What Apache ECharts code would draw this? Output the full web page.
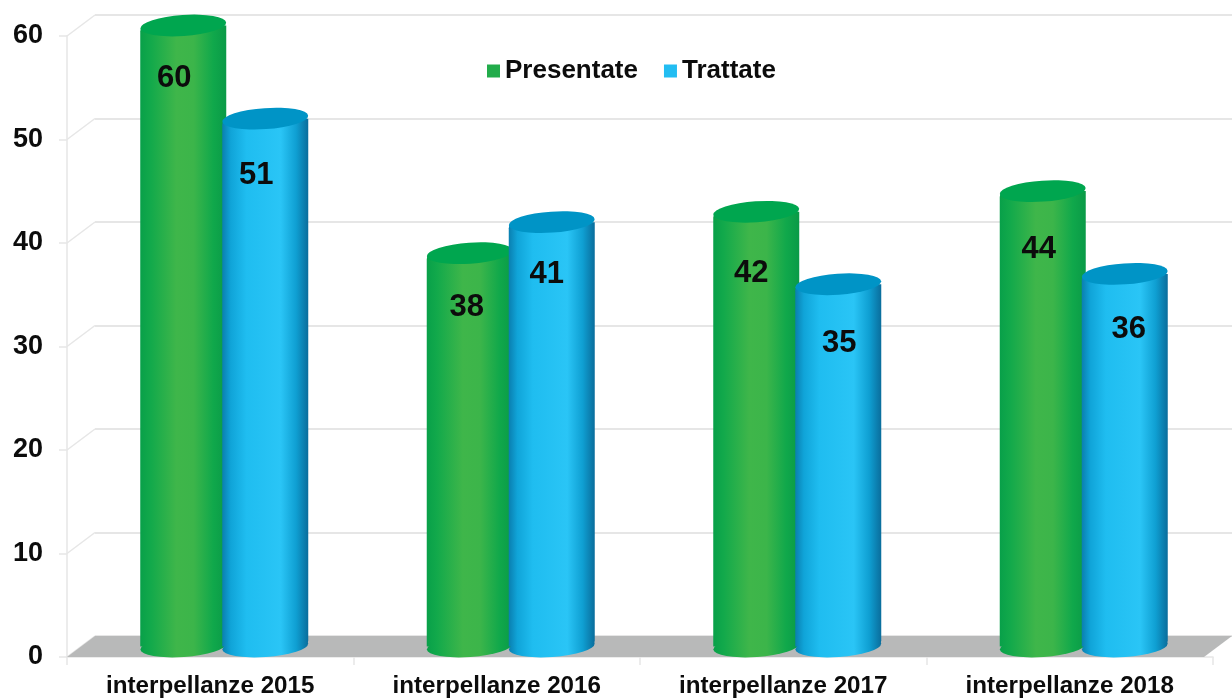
<!DOCTYPE html>
<html><head><meta charset="utf-8">
<style>html,body{margin:0;padding:0;background:#fff}#c{width:1232px;height:699px}</style>
<script src="https://cdn.jsdelivr.net/npm/echarts@6/dist/echarts.min.js"></script>
</head><body><div id="c"></div>
<script>
const categories = ['interpellanze 2015','interpellanze 2016','interpellanze 2017','interpellanze 2018'];
const presentate = [60,38,42,44];
const trattate = [51,41,35,36];
const yTicks = [0,10,20,30,40,50,60];
const seriesNames = ['Presentate','Trattate'];

// layout and styling
const FONT = '"Liberation Sans", Arial, sans-serif';
const front = {left:67, top:36, width:1146, height:621};
const depthX = 28, depthY = 21;
const barW = 86, barShift = 41, ellipseH = 21, tilt = 4;
const shiftG = [[-9,37],[-3,39],[-5,46],[-4,43]];
const shiftB = [[-9,41],[-5,37],[1,44],[4,40]];
const grey = '#e6e6e6';

function cyl(stops){
  return {type:'linear',x:0,y:0,x2:1,y2:0,colorStops:stops.map(s=>({offset:s[0],color:s[1]}))};
}
const greenBody = cyl([[0,'#08a049'],[0.12,'#12a94b'],[0.42,'#3fb64a'],[0.62,'#3cb54a'],[0.85,'#10a84b'],[1,'#0a9a47']]);
const blueBody = cyl([[0,'#0a7fb0'],[0.1,'#10a4d8'],[0.28,'#1fbdf0'],[0.68,'#2ac5f6'],[0.86,'#0f9fd2'],[1,'#0a6d9c']]);
const greenTop = '#00a64f', blueTop = '#0094c6', greenKey = '#22ac4b', blueKey = '#22bdf2';

function body(name, vals, shift, color, z){
  return {
    name, type:'bar', xAxisIndex:1, yAxisIndex:1, z, barWidth:barW, barGap:'-4.65%',
    itemStyle:{color, borderRadius:[6,0,6,0]},
    label:{show:true, position:'insideTop', distance:0, color:'#0c0c0c',
           fontFamily:FONT, fontWeight:'bold', fontSize:31},
    data:vals.map((v,i)=>({value:v,label:{offset:shift[i]}}))
  };
}
function cap(name, vals, color, z, dx, atTop){
  return {
    name, type:'pictorialBar', xAxisIndex:1, yAxisIndex:1, z,
    barWidth:barW, barGap:'-100%', symbol:'circle',
    symbolSize:[barW,ellipseH], symbolRotate:tilt,
    symbolPosition:atTop?'end':'start',
    symbolOffset:[dx, atTop?'-50%':'50%'],
    itemStyle:{color}, silent:true, data:vals
  };
}
function shared(){ return {min:0,max:60,interval:10,type:'value'}; }

const chart = echarts.init(document.getElementById('c'),null,{renderer:'canvas'});
chart.setOption({
  animation:false,
  backgroundColor:'#fff',
  legend:{
    left:482, top:53, itemWidth:13, itemHeight:13, itemGap:26, icon:'rect',
    selectedMode:false,
    textStyle:{fontFamily:FONT,fontWeight:'bold',fontSize:26,color:'#0c0c0c'},
    data:[{name:seriesNames[0],itemStyle:{color:greenKey}},{name:seriesNames[1],itemStyle:{color:blueKey}}]
  },
  grid:[
    {left:front.left, top:front.top, width:front.width, height:front.height},
    {left:front.left+depthX/2, top:front.top-depthY/2, width:front.width, height:front.height},
    {left:front.left+depthX, top:front.top-depthY, width:front.width, height:front.height}
  ],
  xAxis:[
    {type:'category',gridIndex:0,data:categories,
     axisLine:{lineStyle:{color:grey,width:1.5}},
     axisTick:{show:true,length:8,lineStyle:{color:grey,width:1.5}},
     axisLabel:{margin:17,fontFamily:FONT,fontWeight:'bold',fontSize:24.2,color:'#0c0c0c',interval:0}},
    {type:'category',gridIndex:1,data:categories,show:false},
    {type:'category',gridIndex:2,data:categories,show:false}
  ],
  yAxis:[
    Object.assign(shared(),{gridIndex:0,
     axisLine:{show:true,lineStyle:{color:grey,width:1.5}},
     axisTick:{show:true,length:8,lineStyle:{color:grey,width:1.5}},
     splitLine:{show:false},
     axisLabel:{margin:24,fontFamily:FONT,fontWeight:'bold',fontSize:27,color:'#0c0c0c'}}),
    Object.assign(shared(),{gridIndex:1,show:false,splitLine:{show:false}}),
    Object.assign(shared(),{gridIndex:2,axisLine:{show:false},axisTick:{show:false},axisLabel:{show:false},
     splitLine:{show:true,lineStyle:{color:grey,width:2}}})
  ],
  series:[
    {type:'custom',xAxisIndex:2,yAxisIndex:2,z:1,silent:true,clip:false,
     data:yTicks.map(t=>[0,t]),
     renderItem(params,api){
       const cs=params.coordSys, y=api.coord([0,api.value(1)])[1];
       const kids=[{type:'line',shape:{x1:cs.x,y1:y,x2:cs.x-depthX,y2:y+depthY},
                    style:{stroke:grey,lineWidth:1.5}}];
       if(api.value(1)===0){
         kids.push({type:'polygon',shape:{points:[[cs.x,y],[cs.x+cs.width,y],
           [cs.x+cs.width-depthX,y+depthY],[cs.x-depthX,y+depthY]]},
           style:{fill:'#b8b9b9'}});
       }
       return {type:'group',children:kids};
     }},
    cap('bottom-p',presentate,greenBody,2,-barShift,false),
    body(seriesNames[0],presentate,shiftG,greenBody,3),
    cap('top-p',presentate,greenTop,4,-barShift,true),
    cap('bottom-t',trattate,blueBody,5,barShift,false),
    body(seriesNames[1],trattate,shiftB,blueBody,6),
    cap('top-t',trattate,blueTop,7,barShift,true)
  ]
});
</script>
</body></html>
